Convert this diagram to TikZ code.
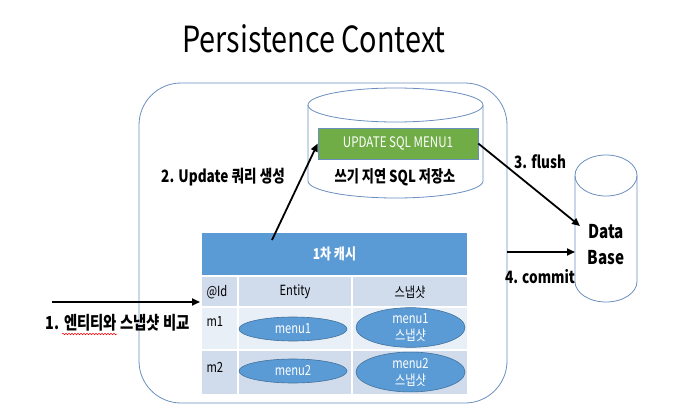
\documentclass[tikz,border=0pt]{standalone}
\usepackage{fontspec}
\setmainfont{Noto Sans CJK KR}[FakeStretch=0.8]
\usetikzlibrary{arrows.meta,decorations.pathmorphing,shapes.geometric}
\definecolor{frame}{RGB}{106,142,190}
\definecolor{hdrblue}{RGB}{91,155,213}
\definecolor{rowdark}{RGB}{208,219,236}
\definecolor{rowlight}{RGB}{233,239,247}
\definecolor{greenbox}{RGB}{112,173,71}
\definecolor{ellborder}{RGB}{65,113,156}
\tikzset{
  arr/.style={line width=1.8pt,-{Triangle[length=8pt,width=7pt]}},
  lbl/.style={font=\fontsize{17}{20}\selectfont\bfseries},
  celltxt/.style={font=\fontsize{14}{17}\selectfont},
  ell/.style={ellipse,fill=hdrblue,draw=ellborder,line width=0.6pt,text=white,
    font=\fontsize{14}{17}\selectfont,align=center,inner sep=0pt},
  cyl/.style={draw=frame,line width=0.8pt},
}
\begin{document}
\begin{tikzpicture}[x=1pt,y=-1pt]
\useasboundingbox (0,0) rectangle (686,420);
% title
\node (title) at (314,39) {\fontsize{36}{40}\selectfont Persistence Context};
% outer frame
\draw[frame,line width=0.8pt,rounded corners=42pt] (139,83) rectangle (507,403);
% SQL store cylinder
\draw[cyl] (395.5,105) ellipse [x radius=87.5,y radius=17];
\draw[cyl] (308,105) -- (308,181) arc[start angle=180,end angle=0,x radius=87.5,y radius=17] -- (483,105);
\node[fill=greenbox,draw=frame,line width=0.6pt,minimum width=160pt,minimum height=31pt,inner sep=0pt,
  text=white,font=\fontsize{14.5}{16}\selectfont] (sql) at (398,143.5) {UPDATE SQL MENU1};
\node[font=\fontsize{16.5}{20}\selectfont\bfseries] (store) at (395,177) {쓰기 지연 SQL 저장소};
% DB cylinder
\draw[cyl] (606,175.5) ellipse [x radius=31,y radius=20.5];
\draw[cyl] (575,175.5) -- (575,281.5) arc[start angle=180,end angle=0,x radius=31,y radius=20.5] -- (637,175.5);
\node[align=center,font=\fontsize{19}{26}\selectfont\bfseries] (db) at (606,245) {Data\\Base};
% cache header
\node[fill=hdrblue,minimum width=265pt,minimum height=42pt,inner sep=0pt,text=white,
  font=\fontsize{15}{16}\selectfont\bfseries] (cache) at (334.5,254) {1차 캐시};
% table rows
\fill[rowdark] (202,277) rectangle (467,307);
\fill[rowlight] (202,307) rectangle (467,350);
\fill[rowdark] (202,350) rectangle (467,394);
\draw[white,line width=1.5pt] (238,277) -- (238,394) (352,277) -- (352,394)
  (202,307) -- (467,307) (202,350) -- (467,350);
\node[celltxt,anchor=west] (id) at (203,292) {@Id};
\node[celltxt] (ent) at (295,292) {Entity};
\node[celltxt] (snap) at (410,292) {스냅샷};
\node[celltxt,anchor=west] (m1) at (203,322) {m1};
\node[celltxt,anchor=west] (m2) at (203,367) {m2};
\node[ell,minimum width=108pt,minimum height=24pt] (e1) at (293,329) {menu1};
\node[ell,minimum width=109pt,minimum height=39pt] (s1) at (410.5,327.5) {menu1\\스냅샷};
\node[ell,minimum width=108pt,minimum height=24pt] (e2) at (293,371) {menu2};
\node[ell,minimum width=109pt,minimum height=38pt] (s2) at (410.5,372) {menu2\\스냅샷};
% arrow 1
\coordinate (a1s) at (52,302);
\coordinate (a1e) at (200,302);
\draw[arr] (a1s) -- (a1e);
\node[font=\fontsize{18}{20}\selectfont\bfseries] (l1) at (118,323) {1. 엔티티와 스냅샷 비교};
\draw[red,line width=0.5pt,decorate,decoration={snake,amplitude=0.8pt,segment length=3pt}] (62,334) -- (117,334);
% arrow 2
\coordinate (a2s) at (272,240);
\draw[arr] (a2s) -- (sql.west);
\node[lbl] (l2) at (223,177) {2. Update 쿼리 생성};
% arrow 3
\coordinate (a3e) at (580,226);
\draw[arr] (sql.east) -- (a3e);
\node[lbl] (l3) at (540,162) {3. flush};
% arrow 4
\coordinate (a4s) at (507,252);
\coordinate (a4e) at (575,252);
\draw[arr] (a4s) -- (a4e);
\node[lbl] (l4) at (540,277) {4. commit};
\end{tikzpicture}
\end{document}
